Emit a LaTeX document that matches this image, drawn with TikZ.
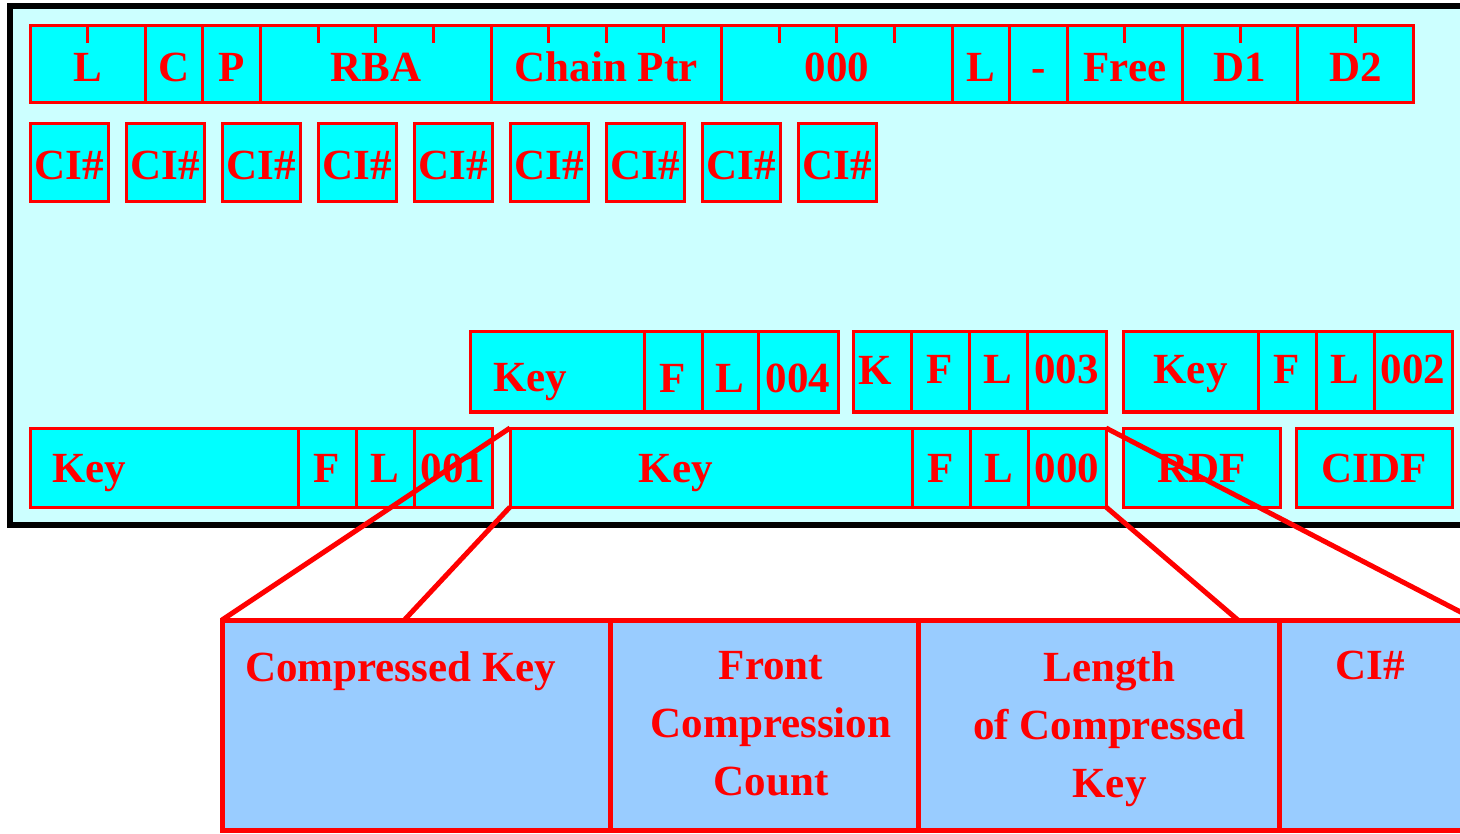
\documentclass[tikz,border=0pt]{standalone}
\usepackage{fontspec}
\setmainfont{Liberation Serif}
\usetikzlibrary{calc}
\definecolor{cisred}{HTML}{FF0000}
\definecolor{ciscyan}{HTML}{00FFFF}
\definecolor{cispale}{HTML}{CCFFFF}
\definecolor{cisblue}{HTML}{99CCFF}
\tikzset{
    field/.style = {draw=cisred, fill=ciscyan, line width=3pt, rectangle, inner sep=0pt, outer sep=0pt, text=cisred, font=\fontsize{43}{50}\selectfont\bfseries, text height=29pt, text depth=0pt},
    field-label/.style = {text=cisred, inner sep=0pt, font=\fontsize{43}{50}\selectfont\bfseries, text height=29pt, text depth=0pt},
    detail-box/.style = {draw=cisred, fill=cisblue, line width=5pt, rectangle, inner sep=0pt, outer sep=0pt, minimum height=210pt},
    detail-text/.style = {text=cisred, inner sep=0pt, font=\fontsize{43}{58}\selectfont\bfseries, align=center},
    zoom-line/.style = {draw=cisred, line width=5pt},
    byte-tick/.style = {draw=cisred, line width=3pt},
}

\begin{document}
\begin{tikzpicture}[x=1pt, y=-1pt]
\useasboundingbox (0,0) rectangle (1460,834);
\clip (0,0) rectangle (1460,834);
% control interval frame
\draw[line width=6pt, fill=cispale] (10,6) rectangle (1470,525);

% header fields
\foreach \nm/\ua/\ub/\txt in {hlen/0/2/L, hcmp/2/3/C, hptr/3/4/P, hrba/4/8/RBA, hchain/8/12/Chain Ptr, hzero/12/16/000, hlast/16/17/L, hdash/17/18/-, hfree/18/20/Free, hdone/20/22/D1, hdtwo/22/24/D2}
    \node[field, text height=35pt, minimum width={(\ub-\ua)*57.625pt}, minimum height=76.5pt] (\nm) at ({30+(\ua+\ub)*57.625/2},64.25) {\txt};
\foreach \u in {1,5,6,7,9,10,11,13,14,15,19,21,23}
    \draw[byte-tick] ({30+\u*57.625},26) -- ++(0,17);

% pointer fields
\foreach \i in {0,...,8}
    \node[field, text height=34pt, minimum width=78pt, minimum height=78pt] (ci\i) at ({69+96*\i},163) {CI\#};

% index entries
\foreach \nm/\xa/\xb/\txt in {kfour/470/644/{}, ffour/644/702/F, lfour/702/758/L, nfour/758/838/004}
    \node[field, text height=40pt, minimum width={(\xb-\xa)*1pt}, minimum height=80pt] (\nm) at ({(\xa+\xb)/2},372) {\txt};
\foreach \nm/\xa/\xb/\txt in {kthree/853/911/{}, fthree/911/969/F, lthree/969/1027/L, nthree/1027/1106/003, ktwo/1123/1258/Key, ftwo/1258/1316/F, ltwo/1316/1374/L, ntwo/1374/1452/002}
    \node[field, text height=24pt, minimum width={(\xb-\xa)*1pt}, minimum height=80pt] (\nm) at ({(\xa+\xb)/2},372) {\txt};
\foreach \nm/\xa/\xb/\txt in {kone/30/298/{}, fone/298/356/F, lone/356/414/L, none/414/492/001, kzero/510/912/{}, fzero/912/970/F, lzero/970/1028/L, nzero/1028/1106/000, rdf/1123/1280/RDF, cidf/1296/1452/CIDF}
    \node[field, minimum width={(\xb-\xa)*1pt}, minimum height=79pt] (\nm) at ({(\xa+\xb)/2},467.5) {\txt};
\node[field-label, anchor=west] (kfour-txt) at ([xshift=23pt,yshift=-5pt]kfour.west) {Key};
\node[field-label, anchor=west] (kthree-txt) at ([xshift=5pt,yshift=2pt]kthree.west) {K};
\node[field-label, anchor=west] (kone-txt) at ([xshift=22pt]kone.west) {Key};
\node[field-label] (kzero-txt) at ([xshift=-35pt]kzero.center) {Key};

% entry layout
\foreach \nm/\xa/\xb in {ckey/222/610, fcc/610/918, lck/918/1279, cin/1279/1476}
    \node[detail-box, minimum width={(\xb-\xa)*1pt}] (\nm) at ({(\xa+\xb)/2},725) {};
\node[detail-text, anchor=north west] (ckey-txt) at ([xshift=23pt,yshift=-31pt]ckey.north west) {Compressed Key};
\node[detail-text, anchor=north] (fcc-txt) at ([xshift=7pt,yshift=-31pt]fcc.north) {Front\\Compression\\Count};
\node[detail-text, anchor=north] (lck-txt) at ([xshift=11pt,yshift=-31pt]lck.north) {Length\\of Compressed\\Key};
\node[detail-text, anchor=north] (cin-txt) at ([xshift=-7pt,yshift=-31pt]cin.north) {CI\#};

\draw[zoom-line] (kzero.north west) -- (ckey.north west);
\draw[zoom-line] (kzero.south west) -- ($(ckey.north west)!0.47!(ckey.north east)$);
\draw[zoom-line] (nzero.south east) -- ($(lck.north west)!0.886!(lck.north east)$);
\draw[zoom-line] (nzero.north east) -- (cin.north east);
\end{tikzpicture}
\end{document}
